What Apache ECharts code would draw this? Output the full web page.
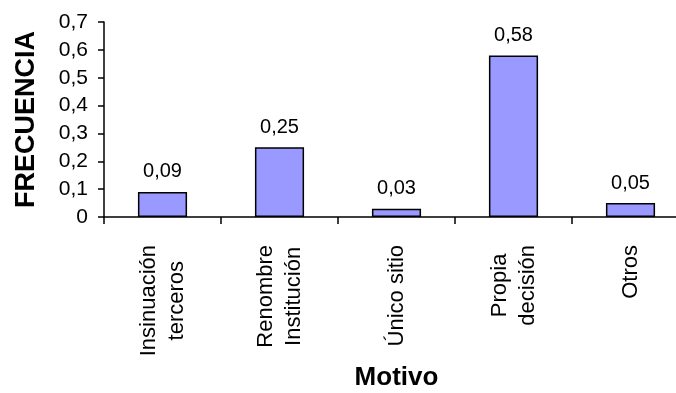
<!DOCTYPE html>
<html>
<head>
<meta charset="utf-8">
<script src="https://cdn.jsdelivr.net/npm/echarts@6/dist/echarts.min.js"></script>
<style>
html,body{margin:0;padding:0;background:#fff;}
#c{width:676px;height:393px;}
</style>
</head>
<body>
<div id="c"></div>
<script>
const categories = ["Insinuación\nterceros", "Renombre\nInstitución", "Único sitio", "Propia\ndecisión", "Otros"];
const values = [0.09, 0.25, 0.03, 0.58, 0.05];
const yTicks = [0, 0.1, 0.2, 0.3, 0.4, 0.5, 0.6, 0.7];
const xTitle = "Motivo";
const yTitle = "FRECUENCIA";

const FONT = "Arial, 'Liberation Sans', sans-serif";
const fmt = v => String(Number(v.toFixed(2))).replace('.', ',');

const chart = echarts.init(document.getElementById('c'), null, {renderer: 'canvas'});
chart.setOption({
  animation: false,
  backgroundColor: '#ffffff',
  grid: {left: 104, right: -13, top: 22, bottom: 176, containLabel: false, outerBoundsMode: 'none'},
  xAxis: {
    type: 'category',
    data: categories,
    name: xTitle,
    nameLocation: 'middle',
    nameGap: 148,
    nameTextStyle: {fontFamily: FONT, fontSize: 26, fontWeight: 'bold', color: '#000'},
    axisLine: {lineStyle: {color: '#000', width: 1.5}},
    axisTick: {show: true, length: 7, lineStyle: {color: '#000', width: 1.5}},
    axisLabel: {
      rotate: 90,
      margin: 28,
      interval: 0,
      color: '#000',
      fontFamily: FONT,
      fontSize: 22,
      lineHeight: 28,
      formatter: v => v.split('\n').map(s => '{c|' + s + '}').join('\n'),
      rich: {c: {align: 'center', fontFamily: FONT, fontSize: 22, lineHeight: 28, color: '#000'}}
    },
    splitLine: {show: false}
  },
  yAxis: {
    type: 'value',
    min: yTicks[0],
    max: yTicks[yTicks.length - 1],
    interval: 0.1,
    name: yTitle,
    nameLocation: 'middle',
    nameGap: 64,
    nameTextStyle: {fontFamily: FONT, fontSize: 27, fontWeight: 'bold', color: '#000'},
    axisLine: {show: true, lineStyle: {color: '#000', width: 1.5}},
    axisTick: {show: true, length: 6, lineStyle: {color: '#000', width: 1.5}},
    axisLabel: {
      margin: 16,
      color: '#000',
      fontFamily: FONT,
      fontSize: 21,
      formatter: v => fmt(v)
    },
    splitLine: {show: false}
  },
  series: [{
    type: 'bar',
    data: values,
    barWidth: '42%',
    itemStyle: {color: '#9999FF', borderColor: '#000', borderWidth: 1.5},
    label: {
      show: true,
      position: 'top',
      distance: 10,
      color: '#000',
      fontFamily: FONT,
      fontSize: 20,
      formatter: p => fmt(p.value)
    }
  }]
});
</script>
</body>
</html>
